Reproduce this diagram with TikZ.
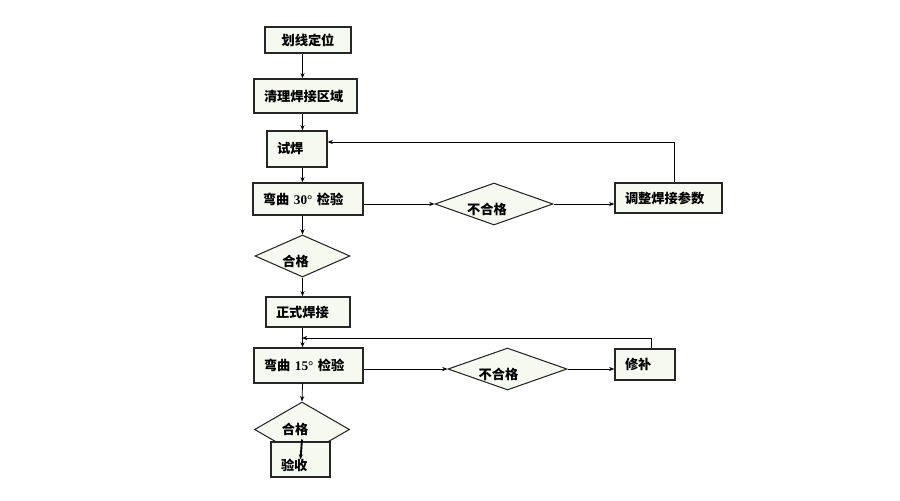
\documentclass[tikz,border=0pt]{standalone}
\usepackage{fontspec}
\setmainfont{Liberation Serif}
\newfontfamily\cjk{Noto Sans CJK SC}
\usetikzlibrary{shapes.geometric, arrows.meta}
\definecolor{boxfill}{HTML}{F5F9EF}

\begin{document}
\begin{tikzpicture}[
    x=0.03cm, y=-0.03cm,
    >={Stealth[length=4.5pt, width=3.5pt]},
    box/.style={rectangle, draw=black!85, line width=1.1pt, fill=boxfill, inner xsep=0.3cm, inner ysep=0pt, align=left, font=\cjk\bfseries\fontsize{11.3}{13}\selectfont},
    decision/.style={diamond, draw=black!85, line width=0.9pt, fill=boxfill, aspect=2.5, inner sep=0pt, text height=0.6cm, text depth=0pt, font=\cjk\bfseries\fontsize{11.3}{13}\selectfont},
    arrow/.style={->, line width=0.7pt},
    strong/.style={->, line width=1.6pt}
]
\useasboundingbox (0,0) rectangle (900,500);

% Main steps
\node[box, minimum width=2.58cm, minimum height=0.78cm, align=center, inner xsep=0pt] (mark) at (308,40) {划线定位};
\node[box, text width=2.49cm, minimum height=1.02cm] (clean) at (305.5,96) {清理焊接区域};
\node[box, text width=1.2cm, minimum height=1.08cm] (trial) at (297,149) {试焊};
\node[box, text width=2.7cm, minimum height=0.96cm] (bend30) at (308,199) {弯曲 {\rmfamily\bfseries 30°} 检验};
\node[decision, minimum width=2.85cm, minimum height=1.26cm] (ok1) at (302.5,256) {\hspace*{-0.42cm}合格};
\node[box, text width=1.92cm, minimum height=0.9cm] (weld) at (308,312) {正式焊接};
\node[box, text width=2.67cm, minimum height=1.05cm] (bend15) at (308.5,365.5) {弯曲 {\rmfamily\bfseries 15°} 检验};
\node[decision, minimum width=2.85cm, minimum height=1.65cm, text height=0.32cm] (ok2) at (302,429.5) {\hspace*{-0.42cm}合格};
\node[box, text width=1.17cm, minimum height=1.05cm, text height=0.66cm, text depth=0pt] (accept) at (300.5,459.5) {验收};

% Failure branches
\node[decision, minimum width=3.54cm, minimum height=1.26cm] (fail1) at (494,204) {\hspace*{-0.42cm}不合格};
\node[box, text width=2.61cm, minimum height=0.9cm] (adjust) at (668.5,198) {调整焊接参数};
\node[decision, minimum width=3.57cm, minimum height=1.26cm] (fail2) at (507.5,369) {\hspace*{-0.54cm}不合格};
\node[box, text width=1.2cm, minimum height=0.93cm] (repair) at (645,364.5) {修补};

\coordinate (join) at (302,338);

% Main flow
\draw[arrow] (mark.south -| ok1) -- (clean.north -| ok1);
\draw[arrow] (clean.south -| ok1) -- (trial.north -| ok1);
\draw[arrow] (trial.south -| ok1) -- (bend30.north -| ok1);
\draw[arrow] (bend30.south -| ok1) -- (ok1.north);
\draw[arrow] (ok1.south) -- (weld.north -| ok1);
\draw[arrow] (weld.south -| ok1) -- (bend15.north -| ok1);
\draw[arrow] (bend15.south -| ok1) -- (ok2.north);
\draw[strong] ([yshift=-0.3cm]ok2.center) -- (accept.center);

% Feedback loops
\draw[arrow] (bend30.east |- fail1.west) -- (fail1.west);
\draw[arrow] (fail1.east) -- (fail1.east -| adjust.west);
\draw[arrow] ([xshift=0.17cm]adjust.north) |- ([yshift=0.21cm]trial.east);
\draw[arrow] (bend15.east |- fail2.west) -- (fail2.west);
\draw[arrow] (fail2.east) -- (fail2.east -| repair.west);
\draw[arrow] ([xshift=0.18cm]repair.north) |- (join);

\end{tikzpicture}
\end{document}
